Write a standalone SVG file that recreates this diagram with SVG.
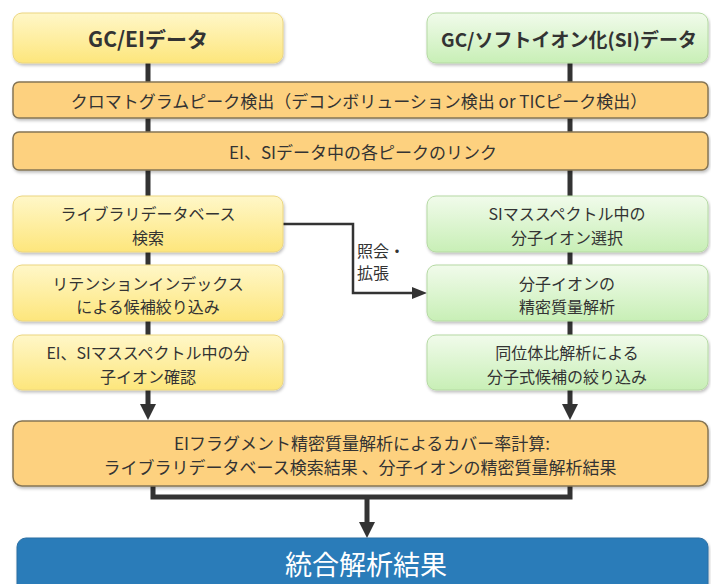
<svg xmlns="http://www.w3.org/2000/svg" width="711" height="584" viewBox="0 0 711 584">
<defs>
<linearGradient id="gy" x1="0" y1="0" x2="0" y2="1"><stop offset="0" stop-color="#fff7c8"/><stop offset="1" stop-color="#fde67c"/></linearGradient>
<linearGradient id="gg" x1="0" y1="0" x2="0" y2="1"><stop offset="0" stop-color="#f1fbeb"/><stop offset="1" stop-color="#c8efb6"/></linearGradient>
<filter id="sh" x="-5%" y="-20%" width="110%" height="150%"><feDropShadow dx="1" dy="2" stdDeviation="1.5" flood-color="#000" flood-opacity="0.25"/></filter>
</defs>
<style>
.y{fill:url(#gy);stroke:#ecd680;stroke-width:1;filter:url(#sh)}
.g{fill:url(#gg);stroke:#b5d9a3;stroke-width:1;filter:url(#sh)}
.o{fill:#fdd17f;stroke:#857554;stroke-width:1.5;filter:url(#sh)}
.b{fill:#2b7cb9;stroke:#2a6ea3;stroke-width:1;filter:url(#sh)}
text{font-family:"Noto Sans CJK JP","Noto Sans",sans-serif;fill:#333;text-anchor:middle;dominant-baseline:central}
.t{font-size:21px;font-weight:bold}
.t2{font-size:19px;font-weight:bold}
.m{font-size:16px}
.l{font-size:17px}
.w{font-size:27px;fill:#fff}
.th{fill:none;stroke:#333;stroke-width:5}
.tn{fill:none;stroke:#333;stroke-width:2.5}
.ah{fill:#333;stroke:none}
</style>
<g id="connectors">
<path class="th" d="M148,63 V406"/>
<path class="ah" d="M140,404 L156,404 L148,420 z"/>
<path class="th" d="M570,63 V406"/>
<path class="ah" d="M562,404 L578,404 L570,420 z"/>
<path class="th" d="M153,486 V497 H570 V486"/>
<path class="th" d="M367,497 V524"/>
<path class="ah" d="M359,522 L375,522 L367,538 z"/>
<path class="tn" d="M283,224 H353 V293 H414"/>
<path class="ah" d="M412,287 L427,293 L412,299 z"/>
<text class="m" x="357" y="250" style="text-anchor:start">照会・</text>
<text class="m" x="357" y="272" style="text-anchor:start">拡張</text>
</g>
<g id="gc-ei"><rect class="y" x="13" y="13" width="270" height="50" rx="9"/><text class="t" x="148" y="38">GC/EIデータ</text></g>
<g id="gc-si"><rect class="g" x="427" y="13" width="281" height="50" rx="9"/><text class="t2" x="569" y="38">GC/ソフトイオン化(SI)データ</text></g>
<g id="peak"><rect class="o" x="13" y="82" width="695" height="36" rx="6"/><text class="l" x="359" y="100">クロマトグラムピーク検出（デコンボリューション検出 or TICピーク検出）</text></g>
<g id="link"><rect class="o" x="13" y="132" width="695" height="38" rx="6"/><text class="l" x="363" y="151">EI、SIデータ中の各ピークのリンク</text></g>
<g id="lib"><rect class="y" x="13" y="196" width="270" height="56" rx="9"/><text class="m" x="148" y="213">ライブラリデータベース</text><text class="m" x="148" y="237">検索</text></g>
<g id="ri"><rect class="y" x="13" y="265" width="270" height="56" rx="9"/><text class="m" x="148" y="283">リテンションインデックス</text><text class="m" x="148" y="306">による候補絞り込み</text></g>
<g id="confirm"><rect class="y" x="13" y="335" width="270" height="55" rx="9"/><text class="m" x="148" y="352">EI、SIマススペクトル中の分</text><text class="m" x="148" y="376">子イオン確認</text></g>
<g id="select"><rect class="g" x="427" y="196" width="281" height="56" rx="9"/><text class="m" x="567" y="213">SIマススペクトル中の</text><text class="m" x="567" y="237">分子イオン選択</text></g>
<g id="accurate"><rect class="g" x="427" y="265" width="281" height="56" rx="9"/><text class="m" x="567" y="283">分子イオンの</text><text class="m" x="567" y="306">精密質量解析</text></g>
<g id="isotope"><rect class="g" x="427" y="335" width="281" height="55" rx="9"/><text class="m" x="567" y="352">同位体比解析による</text><text class="m" x="567" y="376">分子式候補の絞り込み</text></g>
<g id="coverage"><rect class="o" x="13" y="421" width="695" height="65" rx="9"/><text class="l" x="362" y="442">EIフラグメント精密質量解析によるカバー率計算:</text><text class="l" x="360" y="466">ライブラリデータベース検索結果 、分子イオンの精密質量解析結果</text></g>
<g id="result"><rect class="b" x="17" y="538" width="691" height="60" rx="9"/><text class="w" x="366" y="563">統合解析結果</text></g>
</svg>
